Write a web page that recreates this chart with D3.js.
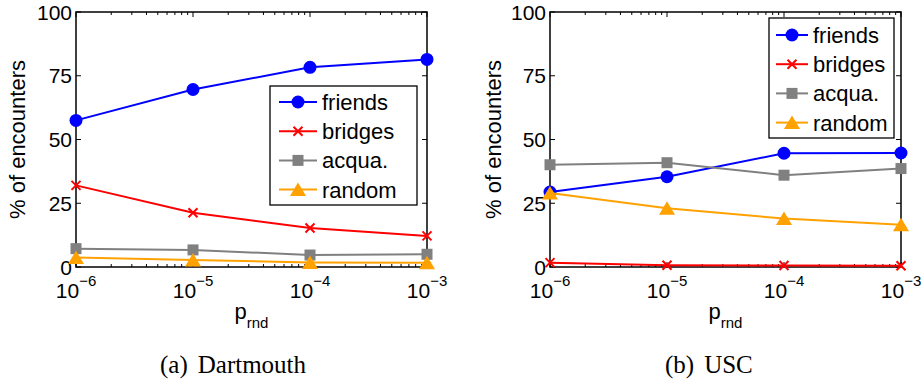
<!DOCTYPE html>
<html>
<head>
<meta charset="utf-8">
<script src="https://cdn.jsdelivr.net/npm/d3@7"></script>
<style>
  body { margin: 0; background: #fff; }
  svg text { font-family: "Liberation Sans", Arial, sans-serif; fill: #000; }
  svg text.caption { font-family: "Liberation Serif", "Times New Roman", serif; }
</style>
</head>
<body>
<div id="chart"></div>
<script>
// values
const xValues = [1e-6, 1e-5, 1e-4, 1e-3];
const xExponents = [-6, -5, -4, -3];
const seriesNames = ["friends", "bridges", "acqua.", "random"];
const seriesColors = ["#0000ff", "#ff0000", "#808080", "#ffa200"];
const seriesMarkers = ["circle", "x", "square", "triangle"];

const dartFriends = [57.5, 69.6, 78.3, 81.4];
const dartBridges = [32.0, 21.3, 15.3, 12.2];
const dartAcqua = [7.2, 6.7, 4.7, 5.0];
const dartRandom = [3.7, 2.7, 1.8, 1.7];

const uscFriends = [29.4, 35.4, 44.6, 44.7];
const uscBridges = [1.7, 0.7, 0.6, 0.5];
const uscAcqua = [40.1, 40.9, 36.0, 38.6];
const uscRandom = [29.0, 23.0, 19.0, 16.6];

const yTicks = [0, 25, 50, 75, 100];
const yLabel = "% of encounters";
const captionTags = ["(a)", "(b)"];
const captionTitles = ["Dartmouth", "USC"];

const width = 924, height = 383;
const plotTop = 12, plotBottom = 267;

const panels = [
    { x0: 76, x1: 427, series: [dartFriends, dartBridges, dartAcqua, dartRandom],
      legend: { x: 270, y: 86, w: 147, h: 119, lx0: 279, lx1: 317, tx: 322, row0: 102, step: 29.2 },
      labelX: 25, capX: 160 },
    { x0: 550, x1: 901, series: [uscFriends, uscBridges, uscAcqua, uscRandom],
      legend: { x: 769, y: 18, w: 125, h: 120, lx0: 776, lx1: 808, tx: 813, row0: 35, step: 29.2 },
      labelX: 501, capX: 665 }
];

const svg = d3.select("#chart").append("svg")
    .attr("width", width)
    .attr("height", height);

// marker drawing, centred on (x, y)
const drawMarker = (g, type, color, x, y) => {
    if (type === "circle") {
        g.append("circle").attr("cx", x).attr("cy", y).attr("r", 6.5).attr("fill", color);
    } else if (type === "square") {
        g.append("rect").attr("x", x - 5.5).attr("y", y - 5.5)
            .attr("width", 11).attr("height", 11).attr("fill", color);
    } else if (type === "triangle") {
        const p = d3.path();
        p.moveTo(x, y - 7);
        p.lineTo(x + 8, y + 6.5);
        p.lineTo(x - 8, y + 6.5);
        p.closePath();
        g.append("path").attr("d", p.toString()).attr("fill", color);
    } else {
        const p = d3.path();
        p.moveTo(x - 4.5, y - 4.5); p.lineTo(x + 4.5, y + 4.5);
        p.moveTo(x + 4.5, y - 4.5); p.lineTo(x - 4.5, y + 4.5);
        g.append("path").attr("d", p.toString()).attr("stroke", color)
            .attr("stroke-width", 2).attr("fill", "none");
    }
};

panels.forEach((pn, pi) => {
    const g = svg.append("g");
    const x = d3.scaleLog().domain([1e-6, 1e-3]).range([pn.x0, pn.x1]);
    const y = d3.scaleLinear().domain([0, 100]).range([plotBottom, plotTop]);

    // minor log ticks (top and bottom, inward)
    const minor = [];
    xValues.slice(0, 3).forEach(v => {
        for (let k = 2; k <= 9; k++) minor.push(v * k);
    });
    minor.forEach(v => {
        g.append("line").attr("x1", x(v)).attr("x2", x(v))
            .attr("y1", plotBottom).attr("y2", plotBottom - 3).attr("stroke", "#000").attr("stroke-width", 1);
        g.append("line").attr("x1", x(v)).attr("x2", x(v))
            .attr("y1", plotTop).attr("y2", plotTop + 3).attr("stroke", "#000").attr("stroke-width", 1);
    });
    xValues.forEach(v => {
        g.append("line").attr("x1", x(v)).attr("x2", x(v))
            .attr("y1", plotBottom).attr("y2", plotBottom - 5).attr("stroke", "#000").attr("stroke-width", 1);
        g.append("line").attr("x1", x(v)).attr("x2", x(v))
            .attr("y1", plotTop).attr("y2", plotTop + 5).attr("stroke", "#000").attr("stroke-width", 1);
    });
    yTicks.forEach(v => {
        g.append("line").attr("x1", pn.x0).attr("x2", pn.x0 + 5)
            .attr("y1", y(v)).attr("y2", y(v)).attr("stroke", "#000").attr("stroke-width", 1);
        g.append("line").attr("x1", pn.x1).attr("x2", pn.x1 - 5)
            .attr("y1", y(v)).attr("y2", y(v)).attr("stroke", "#000").attr("stroke-width", 1);
    });

    // axes box
    g.append("rect")
        .attr("x", pn.x0).attr("y", plotTop)
        .attr("width", pn.x1 - pn.x0).attr("height", plotBottom - plotTop)
        .attr("fill", "none").attr("stroke", "#000").attr("stroke-width", 1.5);

    // y tick labels
    yTicks.forEach(v => {
        g.append("text").attr("x", pn.x0 - 4).attr("y", y(v)).attr("dy", "0.36em")
            .attr("text-anchor", "end").style("font-size", "21px").text(v);
    });

    // x tick labels 10^k
    xValues.forEach((v, i) => {
        const t = g.append("text").attr("x", x(v)).attr("y", 298)
            .attr("text-anchor", "middle").style("font-size", "21px");
        t.append("tspan").text("10");
        t.append("tspan").attr("dy", -12).style("font-size", "15px").text("\u2212" + (-xExponents[i]));
    });

    // x axis label p_rnd
    const xl = g.append("text").attr("x", (pn.x0 + pn.x1) / 2).attr("y", 319)
        .attr("text-anchor", "middle").style("font-size", "22px");
    xl.append("tspan").text("p");
    xl.append("tspan").attr("dy", 9).style("font-size", "15px").text("rnd");

    // y axis label
    g.append("text")
        .attr("transform", `translate(${pn.labelX},${(plotTop + plotBottom) / 2}) rotate(-90)`)
        .attr("text-anchor", "middle").style("font-size", "22px").text(yLabel);

    // series
    const line = d3.line().x((d, i) => x(xValues[i])).y(d => y(d));
    pn.series.forEach((vals, si) => {
        g.append("path").datum(vals).attr("d", line)
            .attr("fill", "none").attr("stroke", seriesColors[si]).attr("stroke-width", 2);
        vals.forEach((v, i) => drawMarker(g, seriesMarkers[si], seriesColors[si], x(xValues[i]), y(v)));
    });

    // legend
    const L = pn.legend;
    const lg = g.append("g");
    lg.append("rect").attr("x", L.x).attr("y", L.y).attr("width", L.w).attr("height", L.h)
        .attr("fill", "#fff").attr("stroke", "#000").attr("stroke-width", 1.3);
    seriesNames.forEach((name, si) => {
        const ry = L.row0 + si * L.step;
        lg.append("line").attr("x1", L.lx0).attr("x2", L.lx1).attr("y1", ry).attr("y2", ry)
            .attr("stroke", seriesColors[si]).attr("stroke-width", 2);
        drawMarker(lg, seriesMarkers[si], seriesColors[si], (L.lx0 + L.lx1) / 2, ry);
        lg.append("text").attr("x", L.tx).attr("y", ry).attr("dy", "0.36em")
            .style("font-size", "22px").text(name);
    });

    // caption
    const cap = g.append("text").attr("class", "caption")
        .attr("x", pn.capX).attr("y", 373).style("font-size", "25px");
    cap.append("tspan").text(captionTags[pi]);
    cap.append("tspan").attr("dx", 10).text(captionTitles[pi]);
});
</script>
</body>
</html>
